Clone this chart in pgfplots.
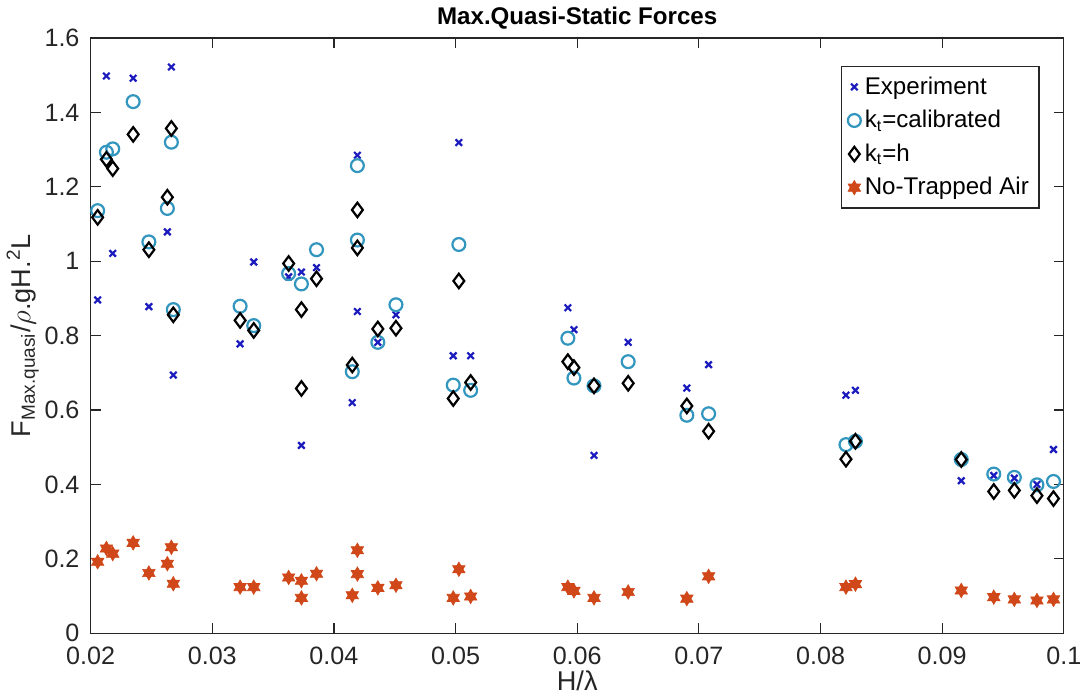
\documentclass[border=0pt]{standalone}
\usepackage{fontspec}
\setmainfont{Liberation Sans}
\usepackage{pgfplots}
\usepackage{pgfplotstable}
\pgfplotsset{compat=1.18}
\definecolor{expblue}{RGB}{28,28,190}
\definecolor{calib}{RGB}{50,150,190}
\definecolor{nta}{RGB}{208,72,26}
\definecolor{axgray}{RGB}{38,38,38}
\pgfdeclareplotmark{hexagram}{%
 \pgfpathmoveto{\pgfqpointpolar{90}{\pgfplotmarksize}}%
 \pgfpathlineto{\pgfqpointpolar{210}{\pgfplotmarksize}}%
 \pgfpathlineto{\pgfqpointpolar{330}{\pgfplotmarksize}}%
 \pgfpathclose
 \pgfpathmoveto{\pgfqpointpolar{270}{\pgfplotmarksize}}%
 \pgfpathlineto{\pgfqpointpolar{30}{\pgfplotmarksize}}%
 \pgfpathlineto{\pgfqpointpolar{150}{\pgfplotmarksize}}%
 \pgfpathclose
 \pgfusepathqfillstroke}

\pgfplotstableread{
x y
0.02058 0.896
0.0213 1.498
0.02182 1.021
0.0235 1.492
0.02479 0.878
0.02631 1.079
0.02664 1.522
0.0268 0.694
0.03229 0.778
0.03341 0.998
0.03628 0.958
0.03733 0.971
0.03733 0.505
0.03857 0.983
0.04151 0.620
0.04193 1.285
0.04193 0.865
0.04361 0.782
0.0451 0.856
0.04981 0.746
0.05027 1.319
0.05124 0.746
0.05923 0.875
0.05973 0.816
0.06138 0.478
0.06419 0.782
0.06901 0.659
0.0708 0.722
0.08209 0.640
0.08287 0.653
0.09157 0.410
0.09424 0.424
0.09593 0.417
0.09779 0.400
0.09915 0.494
}\exptab

\pgfplotstableread{
x y
0.02058 1.136
0.0213 1.293
0.02182 1.302
0.0235 1.429
0.02479 1.052
0.02631 1.142
0.02664 1.320
0.0268 0.870
0.03229 0.879
0.03341 0.827
0.03628 0.967
0.03733 0.939
0.03857 1.031
0.04151 0.703
0.04193 1.257
0.04193 1.057
0.04361 0.782
0.0451 0.883
0.04981 0.667
0.05027 1.045
0.05124 0.653
0.05923 0.793
0.05973 0.686
0.06138 0.665
0.06419 0.730
0.06901 0.586
0.0708 0.590
0.08209 0.507
0.08287 0.516
0.09157 0.467
0.09424 0.428
0.09593 0.419
0.09779 0.399
0.09915 0.408
}\caltab

\pgfplotstableread{
x y
0.02058 1.118
0.0213 1.274
0.02182 1.249
0.0235 1.341
0.02479 1.031
0.02631 1.172
0.02664 1.357
0.0268 0.856
0.03229 0.841
0.03341 0.814
0.03628 0.994
0.03733 0.870
0.03733 0.658
0.03857 0.953
0.04151 0.721
0.04193 1.138
0.04193 1.036
0.04361 0.818
0.0451 0.820
0.04981 0.631
0.05027 0.947
0.05124 0.674
0.05923 0.730
0.05973 0.714
0.06138 0.665
0.06419 0.672
0.06901 0.611
0.0708 0.543
0.08209 0.468
0.08287 0.516
0.09157 0.467
0.09424 0.381
0.09593 0.384
0.09779 0.370
0.09915 0.362
}\httab

\pgfplotstableread{
x y
0.02058 0.192
0.0213 0.228
0.02182 0.214
0.0235 0.243
0.02479 0.162
0.02631 0.187
0.02664 0.231
0.0268 0.133
0.03229 0.124
0.03341 0.124
0.03628 0.150
0.03733 0.141
0.03733 0.095
0.03857 0.160
0.04151 0.102
0.04193 0.223
0.04193 0.159
0.04361 0.122
0.0451 0.129
0.04981 0.095
0.05027 0.172
0.05124 0.099
0.05923 0.124
0.05973 0.114
0.06138 0.095
0.06419 0.111
0.06901 0.093
0.0708 0.153
0.08209 0.124
0.08287 0.132
0.09157 0.115
0.09424 0.097
0.09593 0.091
0.09779 0.088
0.09915 0.091
}\ntatab

\begin{document}
\begin{tikzpicture}
\begin{axis}[
  scale only axis,
  width=484pt, height=296pt,
  xmin=0.02, xmax=0.1, ymin=0, ymax=1.6,
  xtick={0.02,0.03,0.04,0.05,0.06,0.07,0.08,0.09,0.1},
  ytick={0,0.2,0.4,0.6,0.8,1,1.2,1.4,1.6},
  scaled x ticks=false, scaled y ticks=false,
  /pgf/number format/assume math mode=true,
  xticklabel style={/pgf/number format/fixed, /pgf/number format/precision=2, yshift=-3.5pt},
  yticklabel style={/pgf/number format/fixed, /pgf/number format/precision=1, xshift=-2pt},
  tick label style={font=\fontsize{12.5}{14}\selectfont, color=axgray},
  tick align=inside,
  major tick length=5pt,
  tick style={color=axgray, line width=0.6pt},
  axis line style={color=axgray, line width=0.6pt},
  title={\bfseries Max.Quasi-Static Forces},
  title style={font=\fontsize{12}{14}\selectfont, yshift=-5pt},
  xlabel={H/λ},
  ylabel={F\textsubscript{Max.quasi}/$\rho$.gH.\textsuperscript{2}L},
  label style={font=\fontsize{13.5}{15}\selectfont, color=axgray},
  xlabel style={yshift=4pt},
  ylabel style={yshift=-4pt},
  legend style={at={(0.975,0.953)}, anchor=north east, draw=axgray,
    line width=0.6pt, font=\fontsize{12}{14}\selectfont,
    row sep=2.5pt, inner sep=3pt, cells={anchor=west}},
  legend cell align=left,
]
\addplot[only marks, mark=x, mark size=2.3pt, color=expblue, line width=1.1pt]
  table[x=x,y=y] {\exptab};
\addlegendentry{Experiment}
\addplot[only marks, mark=o, mark size=3.2pt, color=calib, line width=1.1pt]
  table[x=x,y=y] {\caltab};
\addlegendentry{k\textsubscript{t}=calibrated}
\addplot[only marks, mark=diamond, mark size=3.6pt, color=black, line width=1.1pt]
  table[x=x,y=y] {\httab};
\addlegendentry{k\textsubscript{t}=h}
\addplot[only marks, mark=hexagram, mark size=3.6pt, color=nta, fill=nta, line width=0.3pt]
  table[x=x,y=y] {\ntatab};
\addlegendentry{No-Trapped Air}
\end{axis}
\end{tikzpicture}
\end{document}
